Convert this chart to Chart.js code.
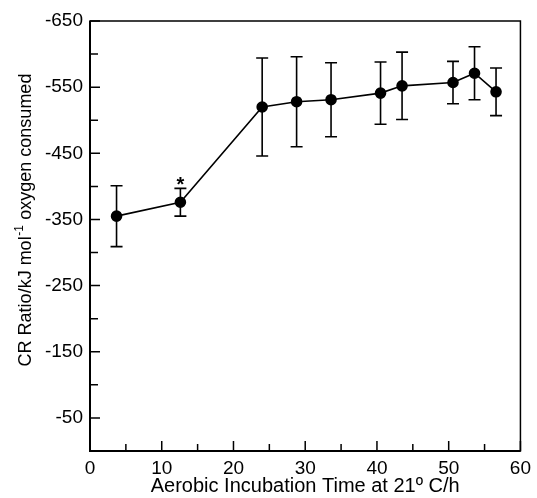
<!DOCTYPE html>
<html>
<head>
<meta charset="utf-8">
<script src="https://cdn.jsdelivr.net/npm/chart.js@4.4.0/dist/chart.umd.min.js"></script>
<style>
  html, body { margin: 0; padding: 0; background: #fff; }
</style>
</head>
<body>
<canvas id="crChart" width="537" height="498"></canvas>
<script>
// data block
const times = [3.7, 12.6, 24.0, 28.8, 33.6, 40.5, 43.5, 50.6, 53.6, 56.6];
const crRatio = [-355, -376, -520, -528, -531, -541, -552, -557, -571, -543];
const crError = [46, 21, 74, 68, 56, 47, 51, 32, 40, 36];
const markedPoints = [1]; // the point with the asterisk
const yLabels = [-650, -550, -450, -350, -250, -150, -50];
const xLabels = [0, 10, 20, 30, 40, 50, 60];

const fontFamily = '"Liberation Sans", Arial, Helvetica, sans-serif';

// frame, inward ticks, error bars, asterisk and y title
const figurePlugin = {
	id: 'figure',
	beforeDatasetsDraw(chart) {
		const ctx = chart.ctx;
		const xs = chart.scales.x;
		const ys = chart.scales.y;
		ctx.save();
		ctx.strokeStyle = '#000';
		ctx.lineWidth = 1.6;
		times.forEach((t, i) => {
			const px = xs.getPixelForValue(t);
			const top = ys.getPixelForValue(crRatio[i] - crError[i]);
			const bot = ys.getPixelForValue(crRatio[i] + crError[i]);
			ctx.beginPath();
			ctx.moveTo(px, top);
			ctx.lineTo(px, bot);
			ctx.moveTo(px - 6, top);
			ctx.lineTo(px + 6, top);
			ctx.moveTo(px - 6, bot);
			ctx.lineTo(px + 6, bot);
			ctx.stroke();
		});
		ctx.restore();
	},
	afterDraw(chart) {
		const ctx = chart.ctx;
		const area = chart.chartArea;
		const xs = chart.scales.x;
		const ys = chart.scales.y;
		ctx.save();
		ctx.strokeStyle = '#000';

		// box round the plot
		ctx.lineWidth = 1.5;
		ctx.strokeRect(area.left, area.top, area.right - area.left, area.bottom - area.top);
		ctx.lineWidth = 2;
		ctx.beginPath();
		ctx.moveTo(area.left, area.top);
		ctx.lineTo(area.left, area.bottom);
		ctx.lineTo(area.right, area.bottom);
		ctx.stroke();

		// ticks pointing into the plot
		ctx.lineWidth = 1.5;
		ctx.beginPath();
		ys.ticks.forEach((tk) => {
			const py = ys.getPixelForValue(tk.value);
			const len = yLabels.includes(tk.value) ? 10 : 8;
			ctx.moveTo(area.left, py);
			ctx.lineTo(area.left + len, py);
		});
		xs.ticks.forEach((tk) => {
			const px = xs.getPixelForValue(tk.value);
			const len = xLabels.includes(tk.value) ? 10 : 7;
			ctx.moveTo(px, area.bottom);
			ctx.lineTo(px, area.bottom - len);
		});
		ctx.stroke();

		// asterisk over the marked point
		ctx.fillStyle = '#000';
		ctx.font = 'bold 20px ' + fontFamily;
		ctx.textAlign = 'center';
		ctx.textBaseline = 'alphabetic';
		markedPoints.forEach((i) => {
			const px = xs.getPixelForValue(times[i]);
			const top = ys.getPixelForValue(crRatio[i] - crError[i]);
			ctx.fillText('*', px, top + 3);
		});

		// y axis title with superscript
		const mainFont = '18px ' + fontFamily;
		const supFont = '12px ' + fontFamily;
		const partA = 'CR Ratio/kJ mol';
		const partSup = '-1';
		const partB = ' oxygen consumed';
		ctx.font = mainFont;
		const wA = ctx.measureText(partA).width;
		const wB = ctx.measureText(partB).width;
		ctx.font = supFont;
		const wS = ctx.measureText(partSup).width + 1;
		const total = wA + wS + wB;
		const cy = (area.top + area.bottom) / 2 - 16;
		ctx.translate(31, cy);
		ctx.rotate(-Math.PI / 2);
		ctx.textAlign = 'left';
		let x0 = -total / 2;
		ctx.font = mainFont;
		ctx.fillText(partA, x0, 0);
		x0 += wA;
		ctx.font = supFont;
		ctx.fillText(partSup, x0 + 0.5, -8);
		x0 += wS;
		ctx.font = mainFont;
		ctx.fillText(partB, x0, 0);
		ctx.restore();
	},
};

// config block
const config = {
	type: 'line',
	data: {
		datasets: [
			{
				data: times.map((t, i) => ({ x: t, y: crRatio[i] })),
				borderColor: '#000',
				backgroundColor: '#000',
				borderWidth: 1.6,
				pointRadius: 5,
				pointHoverRadius: 5,
				pointBackgroundColor: '#000',
				pointBorderColor: '#000',
				tension: 0,
			},
		],
	},
	options: {
		responsive: false,
		animation: false,
		devicePixelRatio: 1,
		layout: { padding: { top: 21, right: 12, left: 0, bottom: 0 } },
		plugins: {
			legend: { display: false },
			tooltip: { enabled: false },
		},
		scales: {
			x: {
				type: 'linear',
				min: 0,
				max: 60,
				grid: { display: false, drawTicks: false },
				border: { display: false },
				ticks: {
					stepSize: 5,
					padding: 6,
					color: '#000',
					font: { family: fontFamily, size: 19 },
					maxRotation: 0,
					autoSkip: false,
					callback: (v) => (xLabels.includes(v) ? v : ''),
				},
				title: {
					display: true,
					text: 'Aerobic Incubation Time at 21º C/h',
					color: '#000',
					font: { family: fontFamily, size: 20 },
					padding: { top: 0, bottom: 0 },
				},
				afterFit: (scale) => {
					scale.height = 47;
				},
			},
			y: {
				type: 'linear',
				reverse: true,
				min: -650,
				max: 0,
				grid: { display: false, drawTicks: false },
				border: { display: false },
				ticks: {
					stepSize: 50,
					padding: 7,
					color: '#000',
					font: { family: fontFamily, size: 19 },
					autoSkip: false,
					callback: (v) => (yLabels.includes(v) ? v : ''),
				},
				afterFit: (scale) => {
					scale.width = 90;
				},
			},
		},
	},
	plugins: [figurePlugin],
};

// render block
const crChart = new Chart(document.getElementById('crChart'), config);
</script>
</body>
</html>
